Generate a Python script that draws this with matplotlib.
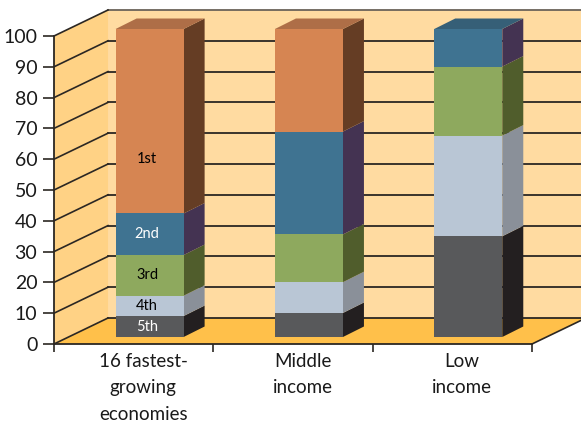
import numpy as np
import matplotlib
matplotlib.use("Agg")
import matplotlib.pyplot as plt
from matplotlib.patches import Polygon

categories = ["16 fastest-\ngrowing\neconomies", "Middle\nincome", "Low\nincome"]
quintiles = ["5th", "4th", "3rd", "2nd", "1st"]
fifth = [6.8, 7.8, 32.7]
fourth = [6.6, 10.0, 32.7]
third = [13.2, 15.5, 22.4]
second = [13.5, 33.4, 12.2]
first = [59.9, 33.3, 0.0]
yticks = list(range(0, 101, 10))

series = [fifth, fourth, third, second, first]
front_cols = ["#58595B", "#B9C6D5", "#8EA95E", "#3F7391", "#D68552"]
side_cols = ["#231F20", "#8A9099", "#505D2C", "#443352", "#653D24"]
top_cols = ["#3A3A3C", "#98A4B0", "#75904B", "#365F77", "#AE6E47"]
text_cols = ["white", "black", "black", "white", "black"]

plt.rcParams['font.family'] = 'Lato'
fig = plt.figure(figsize=(5.81, 4.24), dpi=100)
ax = fig.add_axes([54/581, (424-344)/424, (532-54)/581, (344-36)/424])
ax.set_xlim(-0.5, 2.5)
ax.set_ylim(0, 100)
ax.patch.set_visible(False)

# oblique depth of the box, in data units
depth_x = 54/159.3
depth_y = 26/3.08
bar_w = 68/159.3
bar_dx = 21/159.3
bar_dy = 10.5/3.08
lift = 7/3.08   # bars stand a bit behind the front edge
shift = 0.1
x0, x1 = -0.5, 2.5
dark = "#2b2723"

def poly(pts, col, z, **kw):
    ax.add_patch(Polygon(pts, closed=True, facecolor=col, edgecolor=kw.get('ec', 'none'),
                         lw=kw.get('lw', 0), clip_on=False, zorder=z))

# walls and floor
poly([(x0+depth_x, depth_y), (x1+depth_x, depth_y), (x1+depth_x, 100+depth_y), (x0+depth_x, 100+depth_y)], "#FFDBA1", 1)
poly([(x0, 0), (x0+depth_x, depth_y), (x0+depth_x, 100+depth_y), (x0, 100)], "#FFD285", 2)
poly([(x0, 0), (x1, 0), (x1+depth_x, depth_y), (x0+depth_x, depth_y)], "#FFC04A", 2)

for t in yticks:
    col = "#6b6359" if t == 100 else dark
    ax.plot([x0+depth_x, x1+depth_x], [t+depth_y, t+depth_y], color=col, lw=1.3, clip_on=False, zorder=3)
    ax.plot([x0, x0+depth_x], [t, t+depth_y], color=dark, lw=1.2, clip_on=False, zorder=3)
ax.plot([x1, x1+depth_x], [0, depth_y], color=dark, lw=1.2, clip_on=False, zorder=3)

# stacked bars with side and top faces
xs = np.arange(len(categories)) + shift
bottom = np.zeros(3)
for i, vals in enumerate(series):
    vals = np.array(vals)
    ax.bar(xs, vals, bar_w, bottom=bottom+lift, color=front_cols[i], zorder=5, clip_on=False)
    for x, b, v in zip(xs, bottom, vals):
        if v == 0:
            continue
        r = x + bar_w/2
        poly([(r, b+lift), (r+bar_dx, b+lift+bar_dy), (r+bar_dx, b+v+lift+bar_dy), (r, b+v+lift)], side_cols[i], 4)
        if b + v >= 99.9:
            l = x - bar_w/2
            poly([(l, b+v+lift), (r, b+v+lift), (r+bar_dx, b+v+lift+bar_dy), (l+bar_dx, b+v+lift+bar_dy)], top_cols[i], 4)
    # quintile names only on the first bar
    ypos = bottom[0] + vals[0]/2 + lift
    if i == 4:
        ypos = 60.0
    ax.text(xs[0]-0.015, ypos, quintiles[i], color=text_cols[i], fontsize=10.5, ha='center', va='center', zorder=6)
    bottom = bottom + vals

ax.spines['top'].set_visible(False)
ax.spines['right'].set_visible(False)
for s in ('left', 'bottom'):
    ax.spines[s].set_color(dark)
    ax.spines[s].set_linewidth(1.3)
    ax.spines[s].set_zorder(7)

ax.set_yticks(yticks)
ax.tick_params(axis='y', length=8, width=1.2, color=dark, labelsize=14, pad=4, labelcolor="#1a1a1a")
ax.set_xticks(np.arange(-0.5, 3, 1))
ax.set_xticklabels([])
ax.tick_params(axis='x', length=6, width=1.2, color=dark)

for x, name in zip(xs, categories):
    ax.text(x-0.04, -2.9, name, fontsize=13.5, ha='center', va='top', linespacing=1.68,
            color="#1a1a1a", clip_on=False)

fig.savefig("out.png", dpi=100)
